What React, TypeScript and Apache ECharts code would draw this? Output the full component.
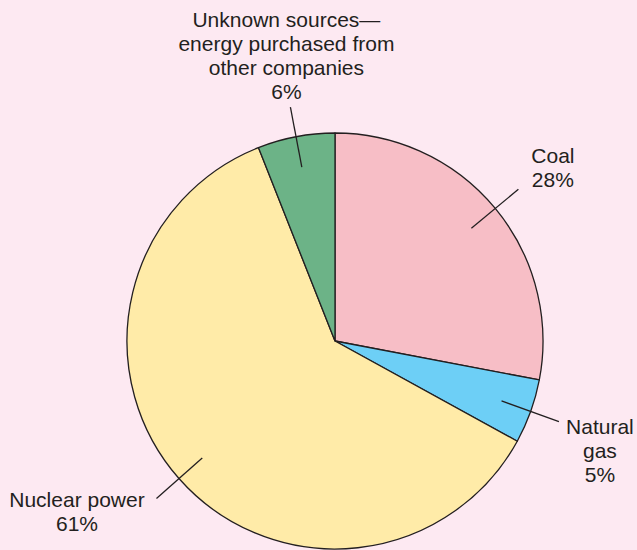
import React, { useEffect, useRef } from "react";
import * as echarts from "echarts";

const names = [
  "Coal",
  "Natural\ngas",
  "Nuclear power",
  "Unknown sources—\nenergy purchased from\nother companies",
];
const values = [28, 5, 61, 6];
const colors = ["#f7bec6", "#6dcff6", "#ffeba8", "#6cb387"];
// label-centre offsets from the outer end of each leader line
const labelOffsets = [
  [34.5, -22],
  [41, 29],
  [-79.5, 13.5],
  [-4, -52],
];

const INK = "#231f20";

export default function App() {
  const ref = useRef<HTMLDivElement>(null);
  useEffect(() => {
    if (!ref.current) return;
    const chart = echarts.init(ref.current, null, { renderer: "svg" });
    const data = names.map((n, i) => ({
      name: n,
      value: values[i],
      itemStyle: { color: colors[i] },
    }));
    chart.setOption({
      animation: false,
      backgroundColor: "#fde9f2",
      series: [
        {
          type: "pie",
          z: 1,
          center: [335, 341],
          radius: 208,
          startAngle: 90,
          clockwise: true,
          silent: true,
          itemStyle: { borderColor: INK, borderWidth: 1.3 },
          label: { show: false },
          labelLine: { show: false },
          data,
        },
        {
          type: "pie",
          z: 5,
          center: [335, 341],
          radius: 177,
          startAngle: 90,
          clockwise: true,
          silent: true,
          avoidLabelOverlap: false,
          itemStyle: { color: "rgba(0,0,0,0)", borderWidth: 0 },
          label: {
            show: true,
            position: "outside",
            formatter: (p: any) => `${p.name}\n${p.value}%`,
            fontFamily: "Liberation Sans, Arial, sans-serif",
            fontSize: 21,
            lineHeight: 24,
            color: INK,
          },
          labelLine: {
            show: true,
            showAbove: true,
            length: 61,
            length2: 0,
            smooth: false,
            lineStyle: { color: INK, width: 1.3 },
          },
          labelLayout: (params: any) => {
            const pts = params.labelLinePoints;
            const off = labelOffsets[params.dataIndex];
            if (!pts) return {};
            const p1 = pts[1];
            return {
              x: p1[0] + off[0],
              y: p1[1] + off[1],
              align: "center",
              verticalAlign: "middle",
              labelLinePoints: [pts[0], p1],
            };
          },
          data: names.map((n, i) => ({ name: n, value: values[i] })),
        },
      ],
    });
    return () => chart.dispose();
  }, []);
  return (
    <div
      ref={ref}
      style={{ position: "fixed", left: 0, top: 0, width: 637, height: 550 }}
    />
  );
}
